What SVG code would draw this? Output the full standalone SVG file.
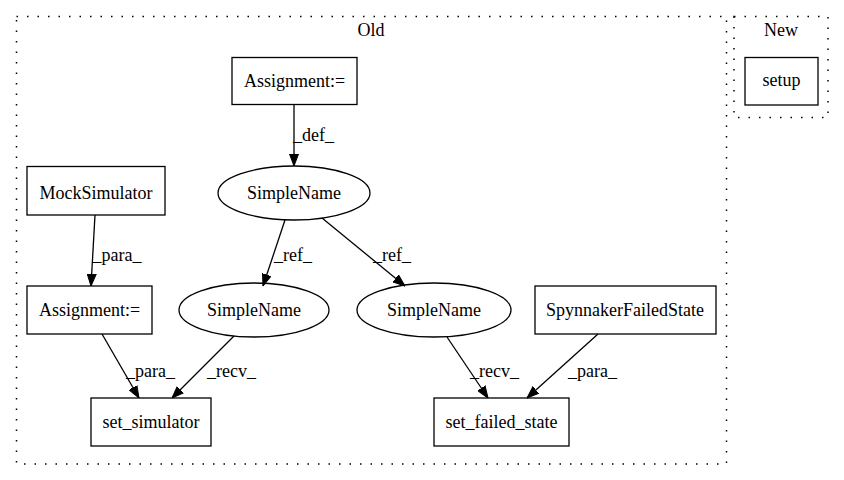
<svg xmlns="http://www.w3.org/2000/svg" width="844" height="480" viewBox="0 0 844 480">
<style>
text{font-family:"Liberation Serif","Times New Roman",serif;font-size:18px;fill:#000}
.c{text-anchor:middle}
.n{fill:#fff;stroke:#000;stroke-width:1.3}
.cl{fill:none;stroke:#000;stroke-width:1.5;stroke-dasharray:1.5,9}
.e{fill:none;stroke:#000;stroke-width:1.3}
</style>
<defs>
<marker id="a" markerWidth="12" markerHeight="10" refX="12" refY="5" orient="auto" markerUnits="userSpaceOnUse">
<path d="M0,0.5 L12,5 L0,9.5 z" fill="#000" stroke="#000"/>
</marker>
</defs>
<rect width="844" height="480" fill="#fff"/>
<g id="cluster_old">
<rect class="cl" x="16.5" y="16.5" width="710" height="447.5"/>
<text class="c" x="371" y="36">Old</text>
</g>
<g id="cluster_new">
<rect class="cl" x="734" y="16.5" width="94" height="101"/>
<text class="c" x="781" y="36">New</text>
</g>
<g id="setup"><rect class="n" x="745" y="57.5" width="73" height="47.5"/><text class="c" x="781.5" y="86">setup</text></g>
<g id="assign_top"><rect class="n" x="232" y="57.5" width="125" height="47"/><text class="c" x="294.5" y="86.5">Assignment:=</text></g>
<g id="simplename_top"><ellipse class="n" cx="294" cy="193" rx="76" ry="27"/><text class="c" x="294" y="199">SimpleName</text></g>
<g id="mocksim"><rect class="n" x="27" y="166.5" width="138" height="48.5"/><text class="c" x="96" y="199">MockSimulator</text></g>
<g id="assign_left"><rect class="n" x="27" y="286" width="125" height="48"/><text class="c" x="89.5" y="316">Assignment:=</text></g>
<g id="simplename_l"><ellipse class="n" cx="254" cy="310" rx="75" ry="27"/><text class="c" x="254" y="316">SimpleName</text></g>
<g id="simplename_r"><ellipse class="n" cx="434" cy="310" rx="77" ry="27"/><text class="c" x="434" y="316">SimpleName</text></g>
<g id="spynnaker"><rect class="n" x="535" y="286" width="181" height="48"/><text class="c" x="625" y="316">SpynnakerFailedState</text></g>
<g id="set_simulator"><rect class="n" x="91" y="398" width="120" height="48"/><text class="c" x="151" y="428">set_simulator</text></g>
<g id="set_failed_state"><rect class="n" x="434" y="398" width="135" height="48"/><text class="c" x="501.5" y="428">set_failed_state</text></g>
<g id="edges">
<path class="e" d="M294,104.5 L294,166" marker-end="url(#a)"/>
<text x="293" y="141">_def_</text>
<path class="e" d="M95,215 L91,286" marker-end="url(#a)"/>
<text x="92.5" y="261">_para_</text>
<path class="e" d="M285,220 L263,286" marker-end="url(#a)"/>
<text x="274" y="261">_ref_</text>
<path class="e" d="M322,218 L405,286" marker-end="url(#a)"/>
<text x="373" y="261">_ref_</text>
<path class="e" d="M102,334 L139,398" marker-end="url(#a)"/>
<text x="126" y="377">_para_</text>
<path class="e" d="M234,336 L172,398" marker-end="url(#a)"/>
<text x="207" y="377">_recv_</text>
<path class="e" d="M447,337 L488,398" marker-end="url(#a)"/>
<text x="470" y="377">_recv_</text>
<path class="e" d="M598,334 L527,398" marker-end="url(#a)"/>
<text x="568" y="377">_para_</text>
</g>
</svg>
